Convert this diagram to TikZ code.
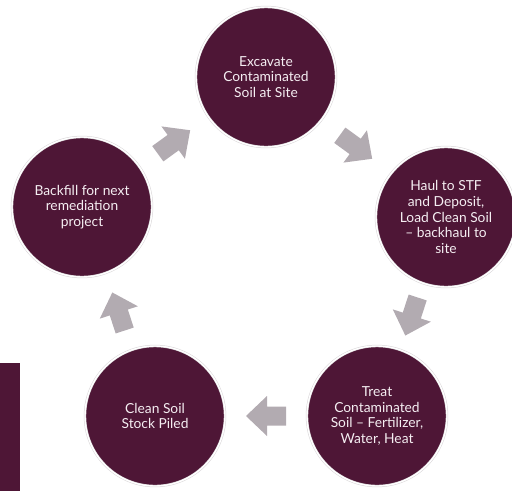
\documentclass[tikz,border=0pt]{standalone}
\usepackage{fontspec}
\setmainfont{Lato}
\usetikzlibrary{calc}
\definecolor{plum}{RGB}{78,22,54}
\definecolor{arrowgray}{RGB}{178,171,177}
\definecolor{ringgray}{RGB}{215,212,214}
\definecolor{lighttext}{RGB}{245,238,242}
\begin{document}
\begin{tikzpicture}[x=1pt,y=-1pt]
\tikzset{
  stage/.style={circle, fill=plum, minimum size=140pt, inner sep=0pt,
    draw=ringgray, line width=0.5pt, double=white, double distance=1.4pt,
    align=center, text=lighttext, font=\fontsize{13.8}{15.8}\selectfont},
  blockarrow/.pic={\fill[arrowgray] (20,0) -- (-1,20) -- (-1,9.5) -- (-20,9.5)
    -- (-20,-9.5) -- (-1,-9.5) -- (-1,-20) -- cycle;}
}
\useasboundingbox (0,0) rectangle (512,491);
\fill[plum] (0,363) rectangle (20,491);
\node[stage] (T)  at (266,77)  {Excavate\\Contaminated\\Soil at Site};
\node[stage] (R)  at (446,217) {Haul to STF\\and Deposit,\\Load Clean Soil\\– backhaul to\\site};
\node[stage] (BR) at (377,416) {Treat\\Contaminated\\Soil – Fertilizer,\\Water, Heat};
\node[stage] (BL) at (155,416) {Clean Soil\\Stock Piled};
\node[stage] (L)  at (82,207)  {Backfill for next\\remediation\\project};
\pic[rotate=36]   at ($(L)!0.5!(T)$)   {blockarrow};
\pic[rotate=-36]  at ($(T)!0.5!(R)$)   {blockarrow};
\pic[rotate=-108] at ($(R)!0.5!(BR)$)  {blockarrow};
\pic[rotate=180]  at ($(BR)!0.5!(BL)$) {blockarrow};
\pic[rotate=108]  at ($(BL)!0.5!(L)$)  {blockarrow};
\end{tikzpicture}
\end{document}
